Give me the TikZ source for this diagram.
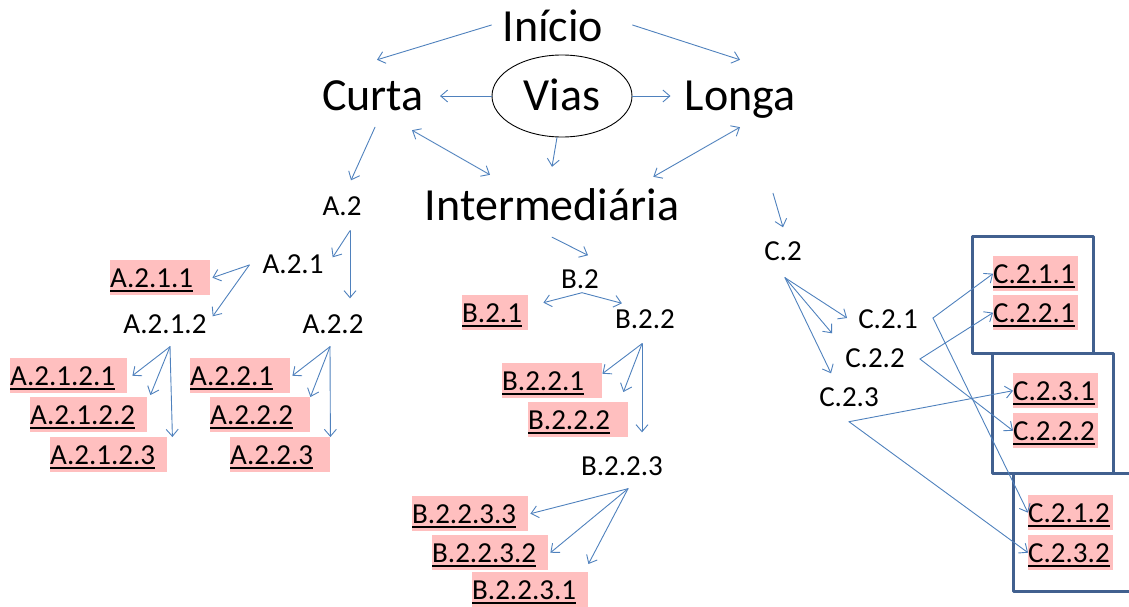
\documentclass[tikz,border=0pt]{standalone}
\usepackage{fontspec}
\setmainfont{Carlito}
\usetikzlibrary{arrows.meta,shapes.geometric}
\definecolor{muiten}{RGB}{79,129,189}
\definecolor{hongnhat}{RGB}{255,191,191}
\definecolor{khung}{RGB}{65,96,143}
\newsavebox{\lkbox}
\newcommand{\lk}[1]{\sbox{\lkbox}{#1}\rlap{\rule[-4.5pt]{\wd\lkbox}{1.6pt}}\usebox{\lkbox}}
\begin{document}
\begin{tikzpicture}[x=1pt,y=-1pt,line cap=round,line join=round,
	lon/.style={font=\fontsize{46}{46}\selectfont,inner sep=0pt,text height=30pt,text depth=0pt},
	nho/.style={font=\fontsize{29}{29}\selectfont,inner sep=0pt,text height=17pt,text depth=0pt},
	hong/.style={font=\fontsize{29}{29}\selectfont,fill=hongnhat,anchor=north west,inner sep=0pt,text width=#1,align=left,text height=27pt,text depth=8pt},
	mui/.style={draw=muiten,line width=0.9pt,>={Straight Barb[length=7pt,width=12pt]},->},
	hai/.style={mui,<->},
	khg/.style={draw=khung,line width=3pt}]
	\useasboundingbox (0,0) rectangle (1129,607);
	\draw[khg] (972,236) rectangle (1093,353);
	\draw[khg] (992,353) rectangle (1113,473);
	\draw[khg] (1013,473) rectangle (1140,591);
	\node[lon] (inicio) at (553,27) {Início};
	\node[lon] (curta) at (373,96) {Curta};
	\node[lon] (longa) at (740,96) {Longa};
	\node[lon] (inter) at (552,205) {Intermediária};
	\node[lon,draw,ellipse,line width=0.9pt,minimum width=140pt,minimum height=82pt] (vias) at (562,96) {Vias};
	\node[nho] (a2) at (342,207) {A.2};
	\node[nho] (a21) at (293,265) {A.2.1};
	\node[nho] (a212) at (165,325) {A.2.1.2};
	\node[nho] (a22) at (333,325) {A.2.2};
	\node[nho] (b2) at (580,280) {B.2};
	\node[nho] (b22) at (645,320) {B.2.2};
	\node[nho] (b223) at (622,467) {B.2.2.3};
	\node[nho] (c2) at (783,252) {C.2};
	\node[nho] (c21) at (888,320) {C.2.1};
	\node[nho] (c22) at (875,359) {C.2.2};
	\node[nho] (c23) at (849,398) {C.2.3};
	\foreach \n/\t/\x/\y/\w in {a211/A.2.1.1/110/260/100,a2121/A.2.1.2.1/10/358/117,a2122/A.2.1.2.2/30/397/117,a2123/A.2.1.2.3/50/437/117,
		a221/A.2.2.1/190/358/100,a222/A.2.2.2/210/397/100,a223/A.2.2.3/230/437/100,
		b21/B.2.1/462/295/66,b221/B.2.2.1/502/363/100,b222/B.2.2.2/528/402/100,
		b2233/B.2.2.3.3/412/496/116,b2232/B.2.2.3.2/432/535/116,b2231/B.2.2.3.1/472/572/116,
		c211/C.2.1.1/993/256/85,c221/C.2.2.1/993/295/85,c231/C.2.3.1/1013/373/85,
		c222/C.2.2.2/1013/413/85,c212/C.2.1.2/1028/495/85,c232/C.2.3.2/1028/535/85}
		{\node[hong=\w pt] (\n) at (\x,\y) {\lk{\t}};}
	\coordinate (a2o) at ([xshift=8pt,yshift=-15pt]a2.south);
	\coordinate (a212o) at ([xshift=5pt,yshift=-13pt]a212.south);
	\coordinate (a22o) at ([xshift=-3pt,yshift=-13pt]a22.south);
	\coordinate (b2o) at ([xshift=2pt,yshift=-4pt]b2.south);
	\coordinate (b22o) at ([xshift=-3pt,yshift=-15pt]b22.south);
	\coordinate (b223o) at ([xshift=6pt,yshift=-13pt]b223.south);
	\coordinate (c2o) at ([xshift=2pt,yshift=-17pt]c2.south);
	\coordinate (c21o) at ([xshift=15pt,yshift=2pt]c21.east);
	\coordinate (c22o) at ([xshift=15pt]c22.east);
	\coordinate (c23o) at ([yshift=-15pt]c23.south);
	\coordinate (io) at ([yshift=-17pt]inter.south);
	\coordinate (lo) at ([xshift=33pt,yshift=-82pt]longa.south);
	\draw[mui] ([xshift=-11pt,yshift=2pt]inicio.west) -- ([xshift=4pt,yshift=21pt]curta.north);
	\draw[mui] ([xshift=29pt,yshift=2pt]inicio.east) -- ([yshift=21pt]longa.north);
	\draw[mui] (vias.west) -- ([xshift=16pt]curta.east);
	\draw[mui] (vias.east) -- ([xshift=-14pt]longa.west);
	\draw[hai] ([xshift=39pt,yshift=-19pt]curta.south) -- ([xshift=-62pt,yshift=15pt]inter.north);
	\draw[mui] ([xshift=-5pt]vias.south) -- ([yshift=23pt]inter.north);
	\draw[hai] ([yshift=-16pt]longa.south) -- ([xshift=-26pt,yshift=13pt]inter.north east);
	\draw[mui] ([xshift=2pt,yshift=-16pt]curta.south) -- ([xshift=9pt,yshift=18pt]a2.north);
	\draw[mui] (io) -- ([xshift=8pt,yshift=16pt]b2.north);
	\draw[mui] (lo) -- ([yshift=16pt]c2.north);
	\path (a2o) edge[mui] ([xshift=9pt,yshift=-1pt]a21.north east) edge[mui] ([xshift=17pt,yshift=18pt]a22.north);
	\path ([xshift=-13pt]a21.west) edge[mui] ([xshift=2pt]a211.east) edge[mui] ([xshift=6pt]a212.north east);
	\path (a212o) edge[mui] ([xshift=5pt]a2121.east) edge[mui] ([xshift=3pt,yshift=2pt]a2122.north east) edge[mui] ([xshift=5pt]a2123.north east);
	\path (a22o) edge[mui] ([xshift=2pt]a221.east) edge[mui] (a222.north east) edge[mui] (a223.north east);
	\path (b2o) edge[mui] ([xshift=15pt,yshift=10pt]b21.east) edge[mui] ([xshift=7pt,yshift=8pt]b22.north west);
	\path (b22o) edge[mui] ([yshift=7pt]b221.east) edge[mui] ([xshift=-5pt,yshift=10pt]b222.north east) edge[mui] ([xshift=20pt,yshift=26pt]b223.north);
	\path (b223o) edge[mui] ([xshift=2pt]b2233.east) edge[mui] ([xshift=2pt]b2232.east) edge[mui] ([yshift=8pt]b2231.north east);
	\path (c2o) edge[mui] ([xshift=-11pt,yshift=2pt]c21.west) edge[mui] ([xshift=-13pt,yshift=17pt]c22.north west) edge[mui] ([xshift=12pt,yshift=16pt]c23.north west);
	\path (c21o) edge[mui] (c211.west) edge[mui] (c212.west);
	\path (c22o) edge[mui] (c221.west) edge[mui] (c222.west);
	\path (c23o) edge[mui] (c231.west) edge[mui] (c232.west);
\end{tikzpicture}
\end{document}
